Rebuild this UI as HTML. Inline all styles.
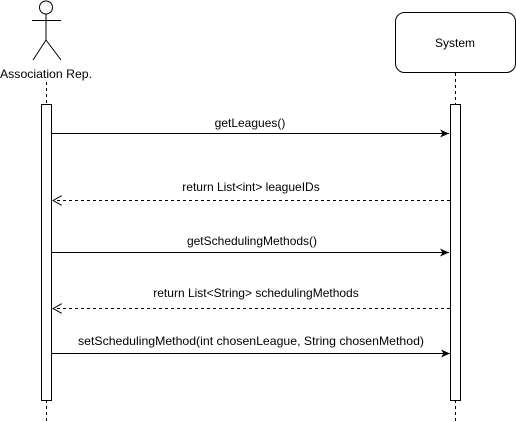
<!DOCTYPE html>
<html><head><meta charset="utf-8"><style>
html,body{margin:0;padding:0;background:#fff;}
svg{display:block;}
text{font-family:"Liberation Sans",Arial,sans-serif;font-size:12px;fill:#000;}
</style></head><body>
<svg width="516" height="422" viewBox="0 0 516 422" xmlns="http://www.w3.org/2000/svg">
<defs>
<marker id="a" markerWidth="10" markerHeight="8" refX="9" refY="4" orient="auto" markerUnits="userSpaceOnUse">
<path d="M0,0 L9,4 L0,8 L2.5,4 Z" fill="#000"/>
</marker>
<marker id="o" markerWidth="10" markerHeight="10" refX="9" refY="5" orient="auto" markerUnits="userSpaceOnUse">
<path d="M0,0 L9,5 L0,10" fill="none" stroke="#000" stroke-width="1"/>
</marker>
</defs>
<g stroke="#000" stroke-width="1" fill="#fff">
<circle cx="46" cy="7.5" r="6.5"/>
<line x1="46" y1="14" x2="46" y2="40"/>
<line x1="32" y1="20.5" x2="61" y2="20.5"/>
<line x1="46" y1="40" x2="33" y2="60"/>
<line x1="46" y1="40" x2="61" y2="60"/>
</g>
<text x="46" y="78" text-anchor="middle" textLength="92" lengthAdjust="spacingAndGlyphs">Association Rep.</text>
<rect x="395.5" y="12.5" width="120" height="60" rx="9" fill="#fff" stroke="#000"/>
<text x="455" y="47" text-anchor="middle">System</text>
<g stroke="#000" stroke-dasharray="3,3">
<line x1="46.5" y1="82" x2="46.5" y2="104"/>
<line x1="46.5" y1="400" x2="46.5" y2="422"/>
<line x1="455.5" y1="73" x2="455.5" y2="104"/>
<line x1="455.5" y1="400" x2="455.5" y2="422"/>
</g>
<rect x="41.5" y="104.5" width="10" height="296" fill="#fff" stroke="#000"/>
<rect x="450.5" y="104.5" width="10" height="296" fill="#fff" stroke="#000"/>
<line x1="51" y1="133.5" x2="449" y2="133.5" stroke="#000" marker-end="url(#a)"/>
<text x="250" y="127" text-anchor="middle">getLeagues()</text>
<line x1="450" y1="200.5" x2="53" y2="200.5" stroke="#000" stroke-dasharray="3,3" marker-end="url(#o)"/>
<text x="251" y="191" text-anchor="middle">return List&lt;int&gt; leagueIDs</text>
<line x1="51" y1="252.5" x2="449" y2="252.5" stroke="#000" marker-end="url(#a)"/>
<text x="252" y="245" text-anchor="middle">getSchedulingMethods()</text>
<line x1="450" y1="308.5" x2="53" y2="308.5" stroke="#000" stroke-dasharray="3,3" marker-end="url(#o)"/>
<text x="256" y="297" text-anchor="middle">return List&lt;String&gt; schedulingMethods</text>
<line x1="51" y1="353.5" x2="450" y2="353.5" stroke="#000" marker-end="url(#a)"/>
<text x="251" y="345" text-anchor="middle" textLength="346" lengthAdjust="spacingAndGlyphs">setSchedulingMethod(int chosenLeague, String chosenMethod)</text>
</svg>
</body></html>
